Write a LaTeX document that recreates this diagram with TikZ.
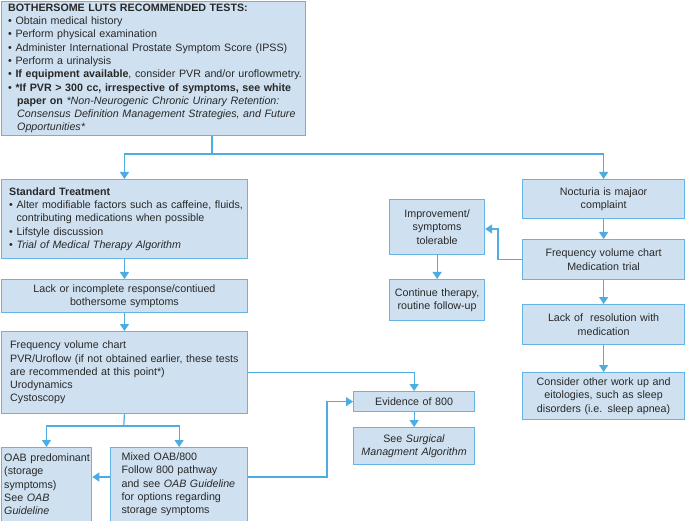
\documentclass[tikz,border=0pt]{standalone}
\usepackage{fontspec}
\setmainfont{Liberation Sans}
\usetikzlibrary{arrows.meta}
\definecolor{boxfill}{RGB}{207,225,240}
\definecolor{boxline}{RGB}{100,180,228}
\definecolor{arrline}{RGB}{77,172,225}
\definecolor{txt}{RGB}{40,40,40}
\begin{document}
\begin{tikzpicture}[x=1pt,y=-1pt,
 box/.style={draw=boxline, fill=boxfill, line width=1.2pt, rectangle, anchor=north west,
   inner xsep=0pt, inner ysep=0pt, font=\fontsize{10.7}{13.3}\selectfont, text=txt},
 lbox/.style={box, align=left},
 cbox/.style={box, align=center},
 ln/.style={draw=arrline, line width=1.2pt},
 arr/.style={ln, -{Triangle[width=9pt,length=7pt]}}]
\useasboundingbox (0,0) rectangle (685,521);

% left column
\node[lbox, minimum width=304.5pt, minimum height=134.5pt, text width=290.5pt] (top) at (0.6,0.6) {%
\mbox{\textbf{BOTHERSOME LUTS RECOMMENDED TESTS:}}\\
\mbox{\textbullet\ Obtain medical history}\\
\mbox{\textbullet\ Perform physical examination}\\
\mbox{\textbullet\ Administer International Prostate Symptom Score (IPSS)}\\
\mbox{\textbullet\ Perform a urinalysis}\\
\mbox{\textbullet\ \textbf{If equipment available}, consider PVR and/or uroflowmetry.}\\
\mbox{\textbullet\ \textbf{*If PVR > 300 cc, irrespective of symptoms, see white}}\\
\mbox{\hspace*{9pt}\textbf{paper on} \textit{*Non-Neurogenic Chronic Urinary Retention:}}\\
\mbox{\hspace*{9pt}\textit{Consensus Definition Management Strategies, and Future}}\\
\mbox{\hspace*{9pt}\textit{Opportunities*}}};

\node[lbox, minimum width=246.5pt, minimum height=79pt, text width=230.5pt] (std) at (0.6,179) {%
\mbox{\textbf{Standard Treatment}}\\
\mbox{\textbullet\ Alter modifiable factors such as caffeine, fluids,}\\
\mbox{\hphantom{\textbullet\ }contributing medications when possible}\\
\mbox{\textbullet\ Lifstyle discussion}\\
\mbox{\textbullet\ \textit{Trial of Medical Therapy Algorithm}}};

\node[cbox, minimum width=246.5pt, minimum height=33pt, text width=240pt] (lack) at (0.6,279) {%
Lack or incomplete response/contiued\\bothersome symptoms};

\node[lbox, minimum width=246.5pt, minimum height=82pt, text width=228.5pt] (freq) at (0.6,331) {%
\mbox{Frequency volume chart}\\
\mbox{PVR/Uroflow (if not obtained earlier, these tests}\\
\mbox{are recommended at this point*)}\\
\mbox{Urodynamics}\\
\mbox{Cystoscopy}};

\node[lbox, minimum width=90.5pt, minimum height=73.5pt, text width=84.5pt] (oab) at (0.6,447) {%
\mbox{OAB predominant}\\
\mbox{(storage}\\
\mbox{symptoms)}\\
\mbox{See \textit{OAB}}\\
\mbox{\textit{Guideline}}};

\node[lbox, minimum width=137pt, minimum height=73.5pt, text width=115pt] (mixed) at (110,447) {%
\mbox{Mixed OAB/800}\\
\mbox{Follow 800 pathway}\\
\mbox{and see \textit{OAB Guideline}}\\
\mbox{for options regarding}\\
\mbox{storage symptoms}};

% middle
\node[cbox, minimum width=121pt, minimum height=20pt, text width=117pt] (evid) at (353,391) {Evidence of 800};
\node[cbox, minimum width=121pt, minimum height=37pt, text width=117pt] (surg) at (353,427) {%
See \textit{Surgical}\\\textit{Managment Algorithm}};

\node[cbox, minimum width=95pt, minimum height=55pt, text width=91pt] (impr) at (389,199) {%
Improvement/\\symptoms\\tolerable};
\node[cbox, minimum width=95pt, minimum height=41pt, text width=91pt] (cont) at (389,279) {%
Continue therapy,\\routine follow-up};

% right column
\node[cbox, minimum width=162pt, minimum height=39pt, text width=158pt] (noct) at (522,179) {%
Nocturia is majaor\\complaint};
\node[cbox, minimum width=162pt, minimum height=40pt, text width=158pt] (fvc) at (522,239) {%
Frequency volume chart\\Medication trial};
\node[cbox, minimum width=162pt, minimum height=40pt, text width=158pt] (lres) at (522,304) {%
Lack of\ \ resolution with\\medication};
\node[cbox, minimum width=162pt, minimum height=47pt, text width=158pt] (cons) at (522,372) {%
Consider other work up and\\eitologies, such as sleep\\disorders (i.e. sleep apnea)};

% connectors
\coordinate (j1) at (212,154);
\draw[ln] (top.south -| j1) -- (j1);
\draw[arr] (j1) -| (std.north);
\draw[arr] (j1) -| (noct.north);
\draw[arr] (std) -- (lack);
\draw[arr] (lack) -- (freq);
\coordinate (j2) at (123.75,426);
\draw[ln] (freq.south) -- (j2);
\draw[arr] (j2) -| (oab.north);
\draw[arr] (j2) -| (mixed.north);
\coordinate (ya) at (0,477);
\draw[arr] (mixed.west |- ya) -- (oab.east |- ya);
\coordinate (k) at (327,0);
\draw[arr] (mixed.east |- ya) -| (k |- evid.west) -- (evid.west);
\draw[arr] (freq.east) -| (evid.north);
\draw[arr] (evid) -- (surg);
\draw[arr] (noct) -- (fvc);
\draw[arr] (fvc) -- (lres);
\draw[arr] (lres) -- (cons);
\coordinate (m) at (498,229);
\draw[arr] (fvc.west) -| (m) -- (impr.east |- m);
\draw[arr] (impr) -- (cont);
\end{tikzpicture}
\end{document}
